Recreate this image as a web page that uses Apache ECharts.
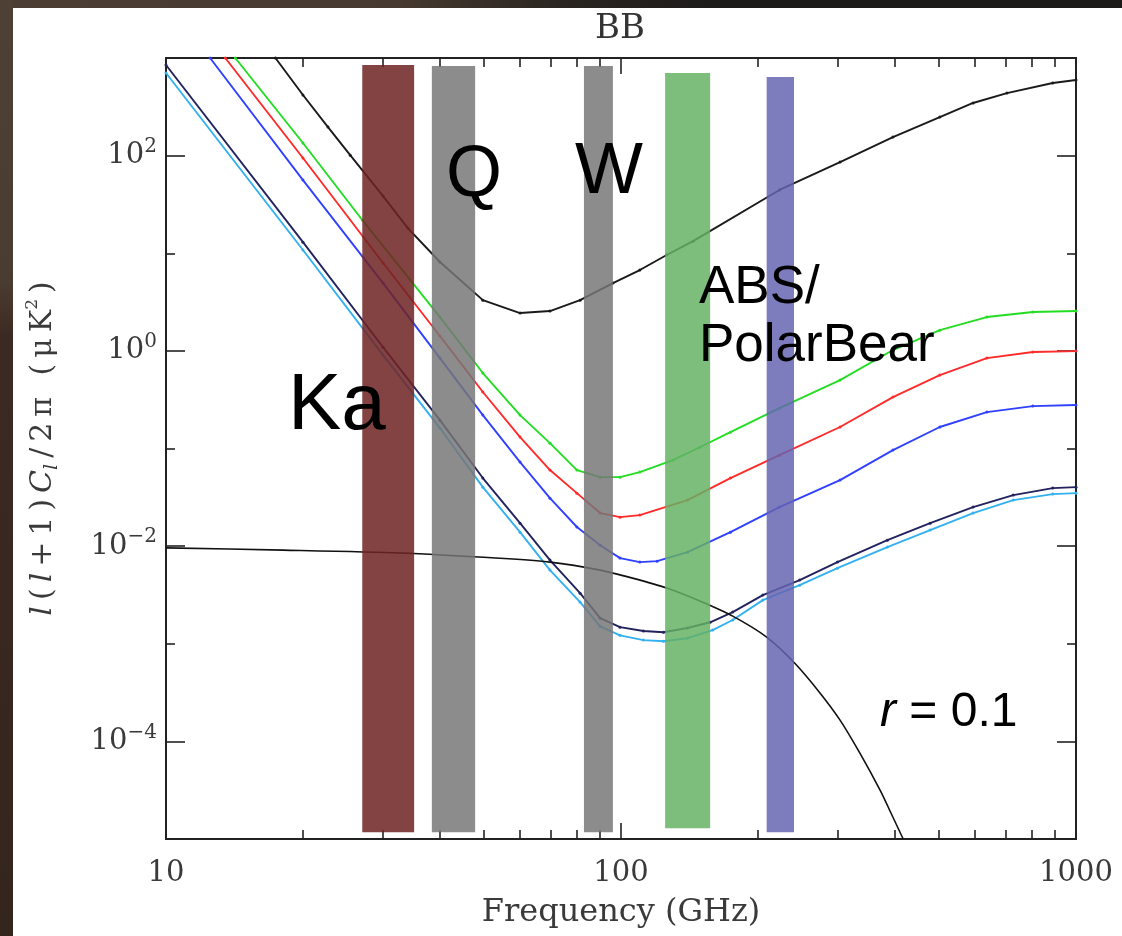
<!DOCTYPE html>
<html>
<head>
<meta charset="utf-8">
<script src="https://cdn.jsdelivr.net/npm/echarts@6/dist/echarts.min.js"></script>
<style>
  html, body { margin: 0; padding: 0; width: 1122px; height: 936px; overflow: hidden; background: #1c1b19; }
  #frameTop { position: absolute; left: 0; top: 0; width: 1122px; height: 8px;
    background: linear-gradient(to right, #4b3d32 0%, #463a30 35%, #2a2521 50%, #1c1b19 65%); }
  #frameLeft { position: absolute; left: 0; top: 0; width: 13px; height: 936px;
    background: linear-gradient(to bottom, #4e4034 0%, #4b3c31 30%, #3b2a21 36%, #34251d 100%); }
  #paper { position: absolute; left: 13px; top: 8px; width: 1109px; height: 928px; background: #fff; }
  #chart { position: absolute; left: 0; top: 0; width: 1122px; height: 936px; }
</style>
</head>
<body>
<div id="frameTop"></div>
<div id="frameLeft"></div>
<div id="paper"></div>
<div id="chart"></div>
<script>
// ---- Foreground + CMB B-mode spectra, l(l+1)C_l/2pi in uK^2 vs frequency (GHz) ----

// Brightest foreground level (black)
const fgBlackFreq = [17.4, 20.0, 22.7, 25.4, 30.0, 34.0, 40.0, 49.7, 60.0, 69.8, 81.3, 96.0, 110, 126, 144, 223, 303, 396, 502, 594, 705, 889, 1000];
const fgBlackVal  = [1000, 418, 196, 101, 38.5, 18.1, 8.13, 3.31, 2.44, 2.56, 3.31, 4.95, 6.73, 9.6, 13.3, 44.5, 85.9, 155, 248, 346, 437, 555, 596];

// Green level
const fgGreenFreq = [14.2, 20.0, 27.0, 40.0, 49.7, 60.0, 69.8, 80.0, 90.0, 99.5, 110, 130, 149, 174, 223, 303, 396, 502, 637, 804, 1000];
const fgGreenVal  = [1000, 134.6, 21.9, 2.22, 0.593, 0.220, 0.1135, 0.0601, 0.0509, 0.0509, 0.0573, 0.076, 0.103, 0.147, 0.259, 0.502, 1.02, 1.63, 2.22, 2.50, 2.56];

// Red level
const fgRedFreq = [13.5, 20.0, 30.0, 40.0, 49.7, 60.0, 69.8, 80.0, 90.0, 99.5, 110, 140, 174, 223, 303, 396, 502, 637, 804, 1000];
const fgRedVal  = [1000, 94.5, 7.94, 1.42, 0.379, 0.131, 0.0601, 0.0349, 0.0218, 0.0198, 0.0208, 0.0296, 0.0498, 0.0855, 0.166, 0.336, 0.565, 0.843, 0.973, 0.995];

// Blue level
const fgBlueFreq = [12.5, 20.0, 30.0, 40.0, 49.7, 60.0, 69.8, 80.0, 90.0, 99.5, 110, 120, 140, 174, 223, 303, 396, 502, 637, 804, 1000];
const fgBlueVal  = [1000, 56.2, 4.95, 0.843, 0.220, 0.0726, 0.0310, 0.0157, 0.0102, 0.00754, 0.00686, 0.00702, 0.00868, 0.0139, 0.0251, 0.0475, 0.0963, 0.166, 0.236, 0.272, 0.279];

// Navy level
const fgNavyFreq = [10, 20, 30, 40, 49.7, 60, 69.8, 81.3, 90, 99.5, 112, 124, 140, 157, 176, 205, 247, 299, 385, 478, 594, 728, 889, 1000];
const fgNavyVal  = [848, 13.0, 1.09, 0.195, 0.0498, 0.0172, 0.00719, 0.0033, 0.00183, 0.00148, 0.00135, 0.00131, 0.00145, 0.00166, 0.00211, 0.00315, 0.00449, 0.00686, 0.0115, 0.0172, 0.0251, 0.0333, 0.0393, 0.0402];

// Light-blue level (lowest foreground)
const fgSkyFreq = [10, 20, 30, 40, 49.7, 60, 69.8, 81.3, 90, 99.5, 112, 124, 140, 159, 176, 205, 247, 299, 385, 478, 594, 728, 889, 1000];
const fgSkyVal  = [702, 10.8, 0.906, 0.162, 0.0402, 0.0139, 0.00568, 0.00267, 0.00151, 0.00122, 0.00109, 0.00106, 0.00114, 0.00138, 0.00175, 0.0028, 0.00398, 0.00595, 0.00977, 0.0146, 0.0218, 0.0296, 0.0341, 0.0349];

// Primordial B-mode signal, r = 0.1
const cmbFreq = [10, 18.1, 32.7, 54.2, 69.8, 90, 106, 126, 149, 176, 209, 241, 274, 303, 335, 371, 396, 417];
const cmbVal  = [0.0096, 0.0091, 0.0085, 0.0075, 0.00686, 0.00568, 0.0047, 0.00372, 0.00274, 0.00192, 0.00117, 0.000632, 0.000312, 0.000165, 0.0000757, 0.0000316, 0.0000167, 0.00001];

// Observing bands: low / high edge (GHz), top / bottom (uK^2)
const bandNames  = ['Ka', 'Q', 'W', 'ABS', 'PolarBear'];
const bandLow    = [27.0, 38.4, 82.9, 125, 209];
const bandHigh   = [35.1, 47.8, 96.0, 157, 240];
const bandTop    = [848, 828, 828, 702, 638];
const bandBottom = [1.17e-5, 1.17e-5, 1.17e-5, 1.29e-5, 1.17e-5];

// Axis ticks
const xMajorTicks = [10, 100, 1000];
const xMinorTicks = [20, 30, 40, 50, 60, 70, 80, 90, 200, 300, 400, 500, 600, 700, 800, 900];
const yMajorTicks = [1e-4, 1e-2, 1, 100];
const yMinorTicks = [1e-5, 1e-3, 1e-1, 10, 1000];

const bandColors = ['rgba(112,36,36,0.86)', 'rgba(118,118,118,0.84)', 'rgba(118,118,118,0.84)', 'rgba(100,178,100,0.84)', 'rgba(100,100,178,0.84)'];

const SERIF = 'DejaVu Serif';
const SANS = 'Liberation Sans';
const INK = '#222';
const LABEL = '#3a3a3a';
const TS = '\u2009'; // thin space used to open up the rotated axis title

const pairs = (f, v) => f.map((x, i) => [x, v[i]]);

function xAxisDef(position, ticks, len, labelled) {
  return {
    type: 'log', logBase: 10, min: 10, max: 1000, position,
    axisLine: { show: true, onZero: false, lineStyle: { color: INK, width: 2 } },
    axisTick: { show: true, inside: true, length: len, customValues: ticks, lineStyle: { color: INK, width: 1.6 } },
    axisLabel: labelled ? {
      show: true, customValues: ticks, margin: 20,
      fontFamily: SERIF, fontSize: 29, color: LABEL,
      formatter: v => String(Math.round(v))
    } : { show: false },
    splitLine: { show: false },
    minorTick: { show: false }
  };
}

function yAxisDef(position, ticks, len, labelled) {
  return {
    type: 'log', logBase: 10, min: 1e-5, max: 1e3, position,
    axisLine: { show: true, onZero: false, lineStyle: { color: INK, width: 2 } },
    axisTick: { show: true, inside: true, length: len, customValues: ticks, lineStyle: { color: INK, width: 1.6 } },
    axisLabel: labelled ? {
      show: true, customValues: ticks, margin: 9,
      formatter: v => {
        const e = Math.round(Math.log10(v));
        return '{b|10}{e|' + (e < 0 ? '\u2212' + (-e) : e) + '}';
      },
      rich: {
        b: { fontFamily: SERIF, fontSize: 29, color: LABEL, lineHeight: 38 },
        e: { fontFamily: SERIF, fontSize: 20, color: LABEL, verticalAlign: 'top' }
      }
    } : { show: false },
    splitLine: { show: false },
    minorTick: { show: false }
  };
}

function curve(name, f, v, color) {
  return {
    name, type: 'line', data: pairs(f, v), z: 2,
    showSymbol: true, symbol: 'circle', symbolSize: 3,
    itemStyle: { color },
    lineStyle: { color, width: 1.9 },
    emphasis: { disabled: true }
  };
}

const xMain = xAxisDef('bottom', xMajorTicks, 16, true);
xMain.name = 'Frequency (GHz)';
xMain.nameLocation = 'middle';
xMain.nameGap = 58;
xMain.nameTextStyle = { fontFamily: SERIF, fontSize: 32, color: LABEL };

const yMain = yAxisDef('left', yMajorTicks, 19, true);
yMain.name = '{i|l}{n|' + TS + '(' + TS + '}{i|l}{n|' + TS + '+' + TS + '1' + TS + ')' + TS + '}{i|C}{s|l}{n|' + TS + '/' + TS + '2' + TS + '\u03c0' + TS + ' ' + TS + '(' + TS + '\u03bc' + TS + 'K}{p|2}{n|' + TS + ')}';
yMain.nameLocation = 'middle';
yMain.nameRotate = 90;
yMain.nameGap = 104;
yMain.nameTextStyle = {
  rich: {
    n: { fontFamily: SERIF, fontSize: 30, color: LABEL, lineHeight: 38 },
    i: { fontFamily: SERIF, fontStyle: 'italic', fontSize: 30, color: LABEL, lineHeight: 38 },
    s: { fontFamily: SERIF, fontStyle: 'italic', fontSize: 19, color: LABEL, verticalAlign: 'bottom' },
    p: { fontFamily: SERIF, fontSize: 17, color: LABEL, verticalAlign: 'top' }
  }
};

const option = {
  animation: false,
  backgroundColor: 'transparent',
  grid: { left: 166, right: 46, top: 58, bottom: 97, containLabel: false },
  xAxis: [
    xMain,
    xAxisDef('bottom', xMinorTicks, 9, false),
    xAxisDef('top', xMajorTicks, 16, false),
    xAxisDef('top', xMinorTicks, 9, false)
  ],
  yAxis: [
    yMain,
    yAxisDef('left', yMinorTicks, 9, false),
    yAxisDef('right', yMajorTicks, 19, false),
    yAxisDef('right', yMinorTicks, 9, false)
  ],
  series: [
    curve('black', fgBlackFreq, fgBlackVal, '#1a1a1a'),
    curve('green', fgGreenFreq, fgGreenVal, '#22dd22'),
    curve('red', fgRedFreq, fgRedVal, '#ff2a2a'),
    curve('blue', fgBlueFreq, fgBlueVal, '#3040ff'),
    curve('navy', fgNavyFreq, fgNavyVal, '#22225e'),
    curve('sky', fgSkyFreq, fgSkyVal, '#33b0f0'),
    {
      name: 'r = 0.1', type: 'line', data: pairs(cmbFreq, cmbVal), z: 2,
      smooth: 0.25, showSymbol: false,
      lineStyle: { color: '#111', width: 1.6 }
    },
    {
      name: 'bands', type: 'custom', z: 5,
      data: bandNames.map((n, i) => [bandLow[i], bandHigh[i], bandTop[i], bandBottom[i]]),
      encode: { x: [0, 1], y: [2, 3] },
      renderItem: (params, api) => {
        const a = api.coord([api.value(0), api.value(2)]);
        const b = api.coord([api.value(1), api.value(3)]);
        return {
          type: 'rect',
          shape: { x: a[0], y: a[1], width: b[0] - a[0], height: b[1] - a[1] },
          style: { fill: bandColors[params.dataIndex] }
        };
      }
    }
  ],
  graphic: [
    { type: 'text', x: 620, y: 29, z: 100, style: { text: 'BB', font: '34px "DejaVu Serif"', fill: '#333', align: 'center', verticalAlign: 'middle' } },
    { type: 'text', x: 288, y: 407, z: 100, style: { text: 'Ka', font: '80px "Liberation Sans"', fill: '#000', align: 'left', verticalAlign: 'middle' } },
    { type: 'text', x: 446, y: 176, z: 100, style: { text: 'Q', font: '72px "Liberation Sans"', fill: '#000', align: 'left', verticalAlign: 'middle' } },
    { type: 'text', x: 575, y: 173, z: 100, style: { text: 'W', font: '72px "Liberation Sans"', fill: '#000', align: 'left', verticalAlign: 'middle' } },
    { type: 'text', x: 699, y: 288, z: 100, style: { text: 'ABS/', font: '53px "Liberation Sans"', fill: '#000', align: 'left', verticalAlign: 'middle' } },
    { type: 'text', x: 699, y: 346, z: 100, style: { text: 'PolarBear', font: '53px "Liberation Sans"', fill: '#000', align: 'left', verticalAlign: 'middle' } },
    { type: 'text', x: 880, y: 713, z: 100, style: {
        text: '{i|r}{n| = 0.1}', align: 'left', verticalAlign: 'middle',
        rich: {
          i: { fontFamily: SANS, fontStyle: 'italic', fontSize: 48, fill: '#000', color: '#000' },
          n: { fontFamily: SANS, fontSize: 48, fill: '#000', color: '#000' }
        }
    } }
  ]
};

const chart = echarts.init(document.getElementById('chart'), null, { renderer: 'canvas' });
chart.setOption(option);
</script>
</body>
</html>
